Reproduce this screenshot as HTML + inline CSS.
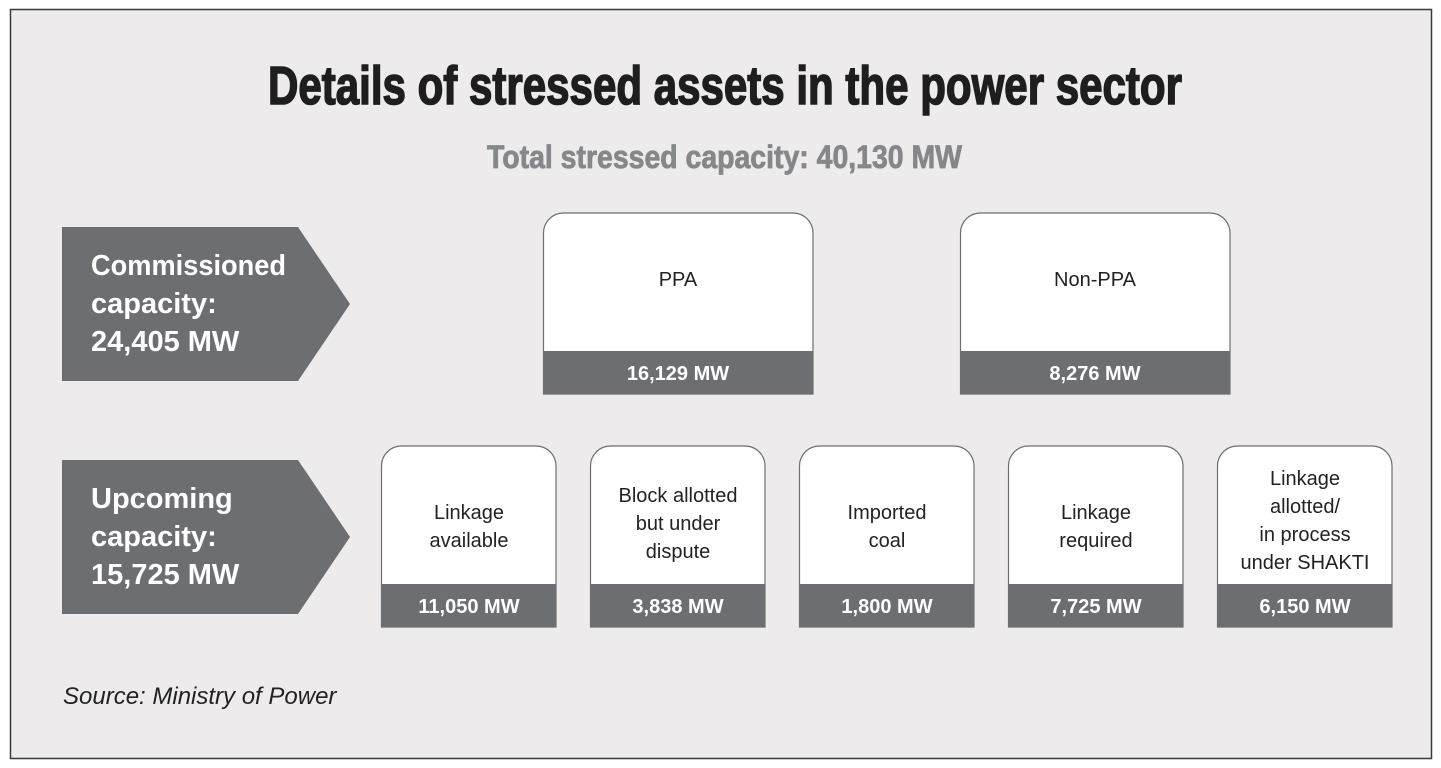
<!DOCTYPE html>
<html><head><meta charset="utf-8"><style>
html,body{margin:0;padding:0;background:#fff;}
svg{display:block;font-family:"Liberation Sans",sans-serif;}
</style></head><body>
<svg width="1441" height="768" viewBox="0 0 1441 768" xmlns="http://www.w3.org/2000/svg">
<rect x="10.5" y="9.5" width="1421" height="749" fill="#edebec" stroke="#3a3a3a" stroke-width="1.5"/>
<text x="268" y="104" font-size="54" font-weight="bold" fill="#1e1e1e" stroke="#1e1e1e" stroke-width="1.6" textLength="914" lengthAdjust="spacingAndGlyphs">Details of stressed assets in the power sector</text>
<text x="487" y="168" font-size="32" font-weight="bold" fill="#86878a" stroke="#86878a" stroke-width="0.8" textLength="475" lengthAdjust="spacingAndGlyphs">Total stressed capacity: 40,130 MW</text>

<polygon points="62,227 298,227 350,304 298,381 62,381" fill="#6d6e71"/>
<g fill="#fff" font-size="29" font-weight="bold">
<text x="91" y="275" textLength="195" lengthAdjust="spacingAndGlyphs">Commissioned</text>
<text x="91" y="313">capacity:</text>
<text x="91" y="351">24,405 MW</text>
</g>
<polygon points="62,460 298,460 350,537 298,614 62,614" fill="#6d6e71"/>
<g fill="#fff" font-size="29" font-weight="bold">
<text x="91" y="508">Upcoming</text>
<text x="91" y="546">capacity:</text>
<text x="91" y="584">15,725 MW</text>
</g>

<g stroke="#6d6e71" stroke-width="1.2">
<path d="M543.5,394 V233 a20,20 0 0 1 20,-20 H793 a20,20 0 0 1 20,20 V394 Z" fill="#fff"/>
<path d="M960.5,394 V233 a20,20 0 0 1 20,-20 H1210 a20,20 0 0 1 20,20 V394 Z" fill="#fff"/>
</g>
<rect x="543" y="351" width="270" height="43" fill="#6d6e71"/>
<rect x="960" y="351" width="270" height="43" fill="#6d6e71"/>
<g font-size="20" fill="#222" text-anchor="middle">
<text x="678" y="286">PPA</text>
<text x="1095" y="286">Non-PPA</text>
</g>
<g font-size="20" font-weight="bold" fill="#fff" text-anchor="middle">
<text x="678" y="380">16,129 MW</text>
<text x="1095" y="380">8,276 MW</text>
</g>

<g stroke="#6d6e71" stroke-width="1.2" fill="#fff">
<path d="M381.5,627 V466 a20,20 0 0 1 20,-20 H536 a20,20 0 0 1 20,20 V627 Z"/>
<path d="M590.5,627 V466 a20,20 0 0 1 20,-20 H745 a20,20 0 0 1 20,20 V627 Z"/>
<path d="M799.5,627 V466 a20,20 0 0 1 20,-20 H954 a20,20 0 0 1 20,20 V627 Z"/>
<path d="M1008.5,627 V466 a20,20 0 0 1 20,-20 H1163 a20,20 0 0 1 20,20 V627 Z"/>
<path d="M1217.5,627 V466 a20,20 0 0 1 20,-20 H1372 a20,20 0 0 1 20,20 V627 Z"/>
</g>
<g fill="#6d6e71">
<rect x="381" y="584" width="175" height="43"/>
<rect x="590" y="584" width="175" height="43"/>
<rect x="799" y="584" width="175" height="43"/>
<rect x="1008" y="584" width="175" height="43"/>
<rect x="1217" y="584" width="175" height="43"/>
</g>
<g font-size="20" fill="#222" text-anchor="middle">
<text x="469" y="519">Linkage</text>
<text x="469" y="547">available</text>
<text x="678" y="502">Block allotted</text>
<text x="678" y="530">but under</text>
<text x="678" y="558">dispute</text>
<text x="887" y="519">Imported</text>
<text x="887" y="547">coal</text>
<text x="1096" y="519">Linkage</text>
<text x="1096" y="547">required</text>
<text x="1305" y="485">Linkage</text>
<text x="1305" y="513">allotted/</text>
<text x="1305" y="541">in process</text>
<text x="1305" y="569">under SHAKTI</text>
</g>
<g font-size="20" font-weight="bold" fill="#fff" text-anchor="middle">
<text x="469" y="613">11,050 MW</text>
<text x="678" y="613">3,838 MW</text>
<text x="887" y="613">1,800 MW</text>
<text x="1096" y="613">7,725 MW</text>
<text x="1305" y="613">6,150 MW</text>
</g>
<text x="63" y="704" font-size="24" font-style="italic" fill="#222">Source: Ministry of Power</text>
</svg>
</body></html>
